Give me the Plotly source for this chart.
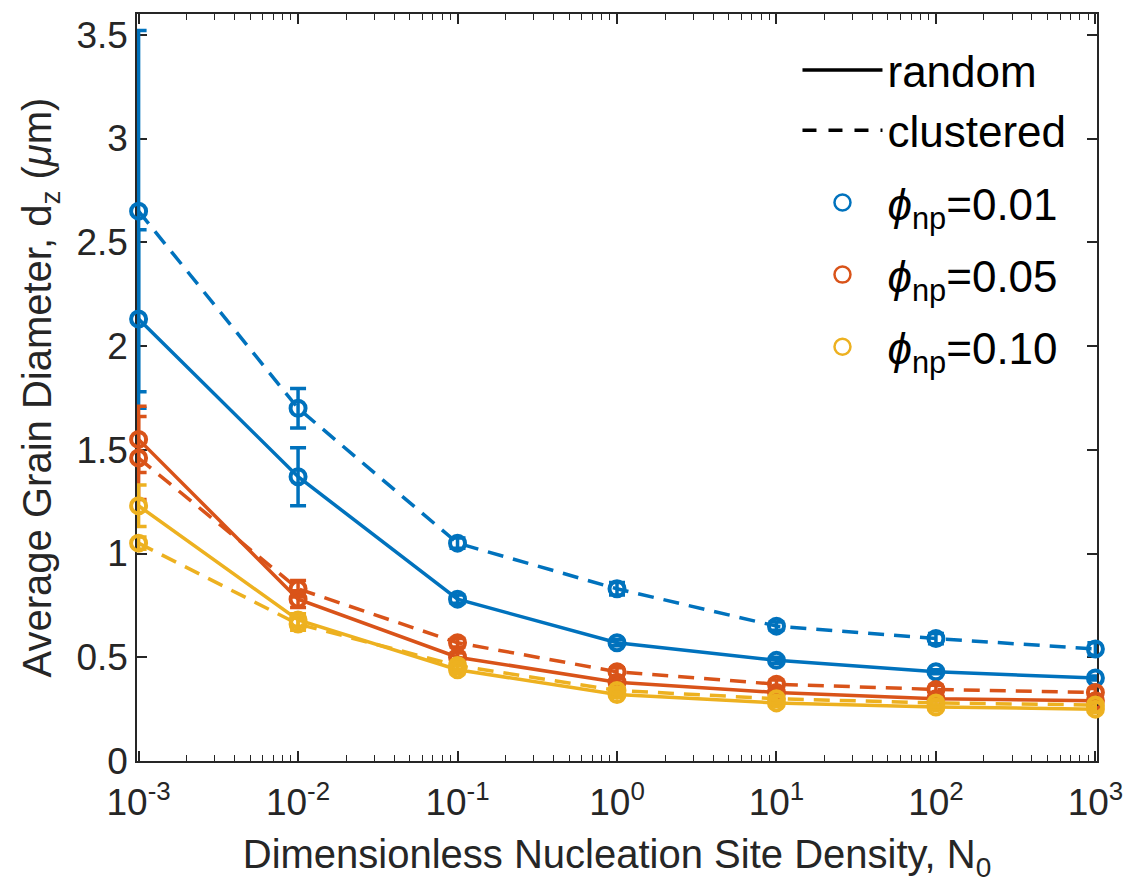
import plotly.graph_objects as go

N0 = [1e-3, 1e-2, 1e-1, 1, 10, 100, 1000]

blue_random = [2.13, 1.37, 0.78, 0.57, 0.485, 0.43, 0.40]
blue_random_err = [0.43, 0.14, 0.02, 0.015, 0.015, 0.01, 0.01]
blue_clustered = [2.65, 1.70, 1.05, 0.83, 0.65, 0.59, 0.54]
blue_clustered_err = [0.87, 0.095, 0.025, 0.03, 0.02, 0.025, 0.03]

orange_random = [1.55, 0.78, 0.50, 0.38, 0.33, 0.30, 0.29]
orange_random_err = [0.16, 0.04, 0.02, 0.015, 0.01, 0.01, 0.01]
orange_clustered = [1.46, 0.83, 0.57, 0.43, 0.37, 0.345, 0.33]
orange_clustered_err = [0.20, 0.04, 0.02, 0.02, 0.02, 0.02, 0.02]

yellow_random = [1.23, 0.68, 0.44, 0.32, 0.28, 0.26, 0.25]
yellow_random_err = [0.10, 0.03, 0.02, 0.01, 0.01, 0.01, 0.01]
yellow_clustered = [1.05, 0.66, 0.46, 0.34, 0.30, 0.28, 0.27]
yellow_clustered_err = [0.03, 0.03, 0.02, 0.01, 0.01, 0.01, 0.01]

x_tickvals = [1e-3, 1e-2, 1e-1, 1, 10, 100, 1000]
x_ticktext = ["10<sup>-3</sup>", "10<sup>-2</sup>", "10<sup>-1</sup>", "10<sup>0</sup>",
              "10<sup>1</sup>", "10<sup>2</sup>", "10<sup>3</sup>"]
x_minor = [m * 10.0 ** e for e in range(-3, 3) for m in range(2, 10)]
y_tickvals = [0, 0.5, 1, 1.5, 2, 2.5, 3, 3.5]
y_ticktext = ["0", "0.5", "1", "1.5", "2", "2.5", "3", "3.5"]

series = [
    ("#0072BD", blue_random, blue_random_err, blue_clustered, blue_clustered_err, "0.01"),
    ("#D95319", orange_random, orange_random_err, orange_clustered, orange_clustered_err, "0.05"),
    ("#EDB120", yellow_random, yellow_random_err, yellow_clustered, yellow_clustered_err, "0.10"),
]

fig = go.Figure()

for color, r, re, c, ce, lab in series:
    for ys, es, dash in [(c, ce, "16px,10px"), (r, re, "solid")]:
        fig.add_trace(go.Scatter(
            x=N0, y=ys, mode="lines+markers", cliponaxis=False,
            line=dict(color=color, width=3.5, dash=dash),
            marker=dict(symbol="circle-open", size=15, color=color, line=dict(width=4, color=color)),
            error_y=dict(type="data", array=es, symmetric=True, color=color, thickness=3.5, width=8),
            showlegend=False, hoverinfo="skip"))

# legend entries
fig.add_trace(go.Scatter(x=[None], y=[None], mode="lines", name="random", legendgroup="style",
                         line=dict(color="black", width=3.5)))
fig.add_trace(go.Scatter(x=[None], y=[None], mode="lines", name="clustered", legendgroup="style",
                         line=dict(color="black", width=3.5, dash="14px,12px")))
for color, r, re, c, ce, lab in series:
    fig.add_trace(go.Scatter(x=[None], y=[None], mode="markers", legendgroup="phi" + lab,
                             name="<i>ϕ</i><sub>np</sub>=" + lab,
                             marker=dict(symbol="circle-open", size=16, color=color,
                                         line=dict(width=2.5, color=color))))

FONT = "Liberation Sans, Arial, sans-serif"
axis_font = dict(family=FONT, size=37, color="#262626")
title_font = dict(family=FONT, size=40, color="#262626")

fig.update_layout(
    width=1135, height=893,
    margin=dict(l=137, r=30, t=12, b=132),
    plot_bgcolor="white", paper_bgcolor="white",
    font=axis_font,
    showlegend=True,
    legend=dict(x=0.688, y=0.972, xanchor="left", yanchor="top",
                bgcolor="rgba(0,0,0,0)", borderwidth=0,
                font=dict(family=FONT, size=44, color="black"),
                itemwidth=80, tracegroupgap=12),
    xaxis=dict(type="log", range=[-3.01, 3.01], tickvals=x_tickvals, ticktext=x_ticktext,
               showgrid=False, zeroline=False, showline=True, linecolor="#262626", linewidth=1.5,
               mirror="ticks", ticks="inside", ticklen=10, tickcolor="#262626", tickwidth=1.5,
               tickfont=axis_font, ticklabelstandoff=8, layer="below traces",
               minor=dict(ticks="inside", ticklen=6, tickcolor="#262626", tickwidth=1.2,
                          showgrid=False, tickmode="array", tickvals=x_minor),
               title=dict(text="Dimensionless Nucleation Site Density, N<sub>0</sub>",
                          font=title_font, standoff=18)),
    yaxis=dict(range=[0, 3.6], tickvals=y_tickvals, ticktext=y_ticktext,
               showgrid=False, zeroline=False, showline=True, linecolor="#262626", linewidth=1.5,
               mirror="ticks", ticks="inside", ticklen=10, tickcolor="#262626", tickwidth=1.5,
               tickfont=axis_font, layer="below traces",
               title=dict(text="Average Grain Diameter, d<sub>z</sub> (<i>μ</i>m)",
                          font=title_font, standoff=12)),
)

fig.write_html("out.html")
